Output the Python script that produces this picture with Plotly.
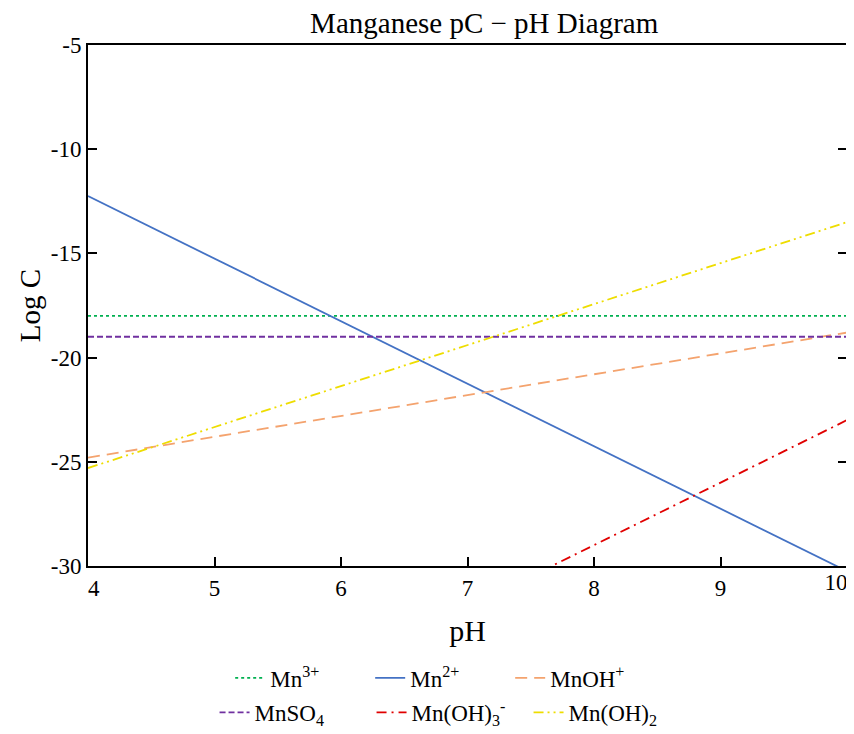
import plotly.graph_objects as go

# ---- data ----
pH = [4, 5, 6, 7, 8, 9, 10]
mn3 = [-18.0, -18.0, -18.0, -18.0, -18.0, -18.0, -18.0]
mn2 = [-12.25, -15.25, -18.25, -21.25, -24.25, -27.25, -30.25]
mnoh = [-24.8, -23.8, -22.8, -21.8, -20.8, -19.8, -18.8]
mnso4 = [-19.0, -19.0, -19.0, -19.0, -19.0, -19.0, -19.0]
mnoh3 = [-41.0, -38.0, -35.0, -32.0, -29.0, -26.0, -23.0]
mnoh2 = [-25.3, -23.33, -21.37, -19.4, -17.43, -15.47, -13.5]

x_ticks = [4, 5, 6, 7, 8, 9, 10]
x_labels = ["\u20074", "5", "6", "7", "8", "9", ""]
x_end_tick = [10]
x_end_label = ["10"]
y_ticks = [-5, -10, -15, -20, -25, -30]
y_labels = ["-5", "-10", "-15", "-20", "-25", "-30"]

FONT = "Liberation Serif"

series = [
    ("Mn<sup>3+</sup>", mn3, "#00B050", "dot", 1.8, "legend"),
    ("Mn<sup>2+</sup>", mn2, "#4472C4", "solid", 1.8, "legend"),
    ("MnOH<sup>+</sup>", mnoh, "#F4A36E", "12px,7px", 1.8, "legend"),
    ("MnSO<sub>4</sub>", mnso4, "#7030A0", "6px,3px", 1.8, "legend2"),
    ("Mn(OH)<sub>3</sub><sup>-</sup>", mnoh3, "#E00000", "10px,5px,2px,5px", 1.8, "legend2"),
    ("Mn(OH)<sub>2</sub>", mnoh2, "#EEDD00", "10px,4px,2px,4px,2px,4px", 1.8, "legend2"),
]

fig = go.Figure()
for name, vals, col, dash, w, lg in series:
    fig.add_trace(go.Scatter(
        x=pH, y=vals, mode="lines", name=name,
        line=dict(color=col, dash=dash, width=w),
        legend=lg,
    ))
# empty helper trace so the overlay axis carrying the shifted "10" label is drawn
fig.add_trace(go.Scatter(x=[], y=[], xaxis="x2", yaxis="y", showlegend=False,
                         hoverinfo="skip", mode="lines"))

# page body has an 8px margin; size the figure so the plot lands where the reference has it
fig.update_layout(
    width=846, height=726,
    margin=dict(l=80, r=7, t=37, b=168, autoexpand=False),
    paper_bgcolor="white", plot_bgcolor="white",
    font=dict(family=FONT, color="black", size=21),
    title=dict(text="Manganese pC − pH Diagram", font=dict(size=29, family=FONT),
               x=0.522, xref="paper", xanchor="center", y=0.993, yanchor="top"),
    legend=dict(orientation="h", x=0.464, xanchor="center", y=-0.215, yanchor="middle",
                font=dict(size=23, family=FONT), bgcolor="rgba(0,0,0,0)",
                entrywidth=95, entrywidthmode="pixels"),
    legend2=dict(orientation="h", x=0.477, xanchor="center", y=-0.281, yanchor="middle",
                 font=dict(size=23, family=FONT), bgcolor="rgba(0,0,0,0)",
                 entrywidth=112, entrywidthmode="pixels"),
    showlegend=True,
    xaxis=dict(
        range=[4, 10], tickvals=x_ticks, ticktext=x_labels, automargin=False,
        showline=True, linecolor="black", linewidth=2, mirror=True,
        ticks="inside", ticklen=9, tickwidth=1.5, tickcolor="black",
        showgrid=False, zeroline=False,
        tickfont=dict(size=23, family=FONT),
        title=dict(text="pH", font=dict(size=30, family=FONT), standoff=20),
    ),
    xaxis2=dict(
        overlaying="x", anchor="y", side="bottom", range=[4, 10],
        tickvals=x_end_tick, ticktext=x_end_label, ticks="",
        showline=False, showgrid=False, zeroline=False, automargin=False,
        ticklabelshift=-11, tickfont=dict(size=23, family=FONT, color="black"),
    ),
    yaxis=dict(
        range=[-30, -5], tickvals=y_ticks, ticktext=y_labels, automargin=False,
        showline=True, linecolor="black", linewidth=2, mirror="ticks",
        ticks="inside", ticklen=9, tickwidth=1.5, tickcolor="black",
        showgrid=False, zeroline=False,
        tickfont=dict(size=23, family=FONT),
        title=dict(text="Log C", font=dict(size=29, family=FONT), standoff=2),
    ),
)

fig.write_html("out.html")
